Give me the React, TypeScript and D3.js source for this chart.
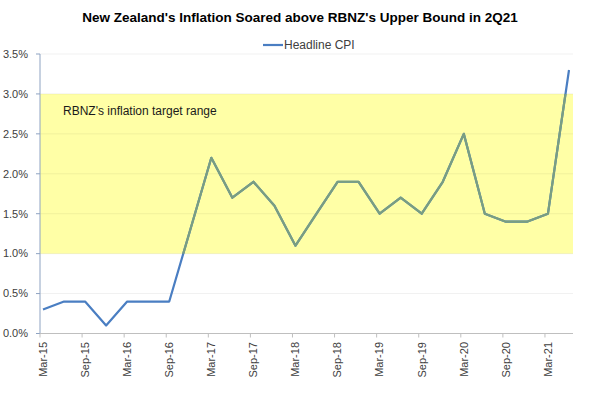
import React, { useRef, useEffect } from 'react';
import * as d3 from 'd3';

// quarterly headline CPI, annual % change
const quarters = [
  'Mar-15', 'Jun-15', 'Sep-15', 'Dec-15', 'Mar-16', 'Jun-16', 'Sep-16', 'Dec-16',
  'Mar-17', 'Jun-17', 'Sep-17', 'Dec-17', 'Mar-18', 'Jun-18', 'Sep-18', 'Dec-18',
  'Mar-19', 'Jun-19', 'Sep-19', 'Dec-19', 'Mar-20', 'Jun-20', 'Sep-20', 'Dec-20',
  'Mar-21', 'Jun-21',
];
const headlineCpi = [
  0.3, 0.4, 0.4, 0.1, 0.4, 0.4, 0.4, 1.3,
  2.2, 1.7, 1.9, 1.6, 1.1, 1.5, 1.9, 1.9,
  1.5, 1.7, 1.5, 1.9, 2.5, 1.5, 1.4, 1.4,
  1.5, 3.3,
];
const xLabels = quarters.filter((_, i) => i % 2 === 0);
const yTicks = [0, 0.5, 1, 1.5, 2, 2.5, 3, 3.5];
const targetRange = [1, 3];

const title = "New Zealand's Inflation Soared above RBNZ's Upper Bound in 2Q21";

const App = () => {
  const ref = useRef<SVGSVGElement>(null);

  useEffect(() => {
    const svg = d3.select(ref.current);
    svg.selectAll('*').remove();
    const font = 'Liberation Sans, Arial, sans-serif';

    const left = 40, right = 573;
    const x = d3.scalePoint<string>().domain(quarters).range([43, 569]);
    const y = d3.scaleLinear().domain([0, 3.5]).range([333.5, 54]);

    // target band
    svg.append('rect')
      .attr('x', left).attr('width', right - left)
      .attr('y', y(targetRange[1])).attr('height', y(targetRange[0]) - y(targetRange[1]))
      .attr('fill', '#FFFFA6');

    // gridlines
    svg.append('g').selectAll('line')
      .data(yTicks.slice(1))
      .join('line')
      .attr('x1', left).attr('x2', right)
      .attr('y1', d => y(d)).attr('y2', d => y(d))
      .attr('stroke', '#000').attr('stroke-opacity', 0.06);

    svg.append('text')
      .attr('x', 63).attr('y', 115)
      .attr('font-family', font).attr('font-size', 12)
      .attr('fill', '#1a1a1a')
      .text("RBNZ's inflation target range");

    const data = quarters.map((q, i) => ({ q, v: headlineCpi[i] }));
    const line = d3.line<{ q: string; v: number }>()
      .x(d => x(d.q)!)
      .y(d => y(d.v));

    svg.append('path')
      .datum(data)
      .attr('d', line)
      .attr('fill', 'none')
      .attr('stroke', '#4A7EC2')
      .attr('stroke-width', 2.2)
      .attr('stroke-linejoin', 'round');

    // part of the line seen through the band
    svg.append('clipPath').attr('id', 'band')
      .append('rect')
      .attr('x', left).attr('width', right - left)
      .attr('y', y(targetRange[1])).attr('height', y(targetRange[0]) - y(targetRange[1]));

    svg.append('path')
      .datum(data)
      .attr('clip-path', 'url(#band)')
      .attr('d', line)
      .attr('fill', 'none')
      .attr('stroke', '#7A9E80')
      .attr('stroke-width', 2.2)
      .attr('stroke-linejoin', 'round');

    // y axis
    const yAxis = svg.append('g');
    yAxis.append('line')
      .attr('x1', left).attr('x2', left)
      .attr('y1', y(3.5)).attr('y2', y(0))
      .attr('stroke', '#8EA3C2');
    yAxis.selectAll('line.tick')
      .data(yTicks)
      .join('line')
      .attr('class', 'tick')
      .attr('x1', left - 4).attr('x2', left)
      .attr('y1', d => y(d)).attr('y2', d => y(d))
      .attr('stroke', '#8EA3C2');
    yAxis.selectAll('text')
      .data(yTicks)
      .join('text')
      .attr('x', 28).attr('y', d => y(d))
      .attr('dy', '0.35em')
      .attr('text-anchor', 'end')
      .attr('font-family', font).attr('font-size', 11)
      .attr('fill', '#404040')
      .text(d => d.toFixed(1) + '%');

    // x axis
    const xAxis = svg.append('g');
    xAxis.append('line')
      .attr('x1', left).attr('x2', right)
      .attr('y1', y(0)).attr('y2', y(0))
      .attr('stroke', '#BFBFBF');
    xAxis.selectAll('line.tick')
      .data(xLabels)
      .join('line')
      .attr('class', 'tick')
      .attr('x1', d => x(d)! - 3).attr('x2', d => x(d)! - 3)
      .attr('y1', y(0)).attr('y2', y(0) + 4)
      .attr('stroke', '#BFBFBF');
    xAxis.selectAll('text')
      .data(xLabels)
      .join('text')
      .attr('transform', d => `translate(${x(d)},342) rotate(-90)`)
      .attr('dy', '0.35em')
      .attr('text-anchor', 'end')
      .attr('font-family', font).attr('font-size', 11)
      .attr('fill', '#404040')
      .text(d => d);

    // title
    svg.append('text')
      .attr('x', 300).attr('y', 22)
      .attr('text-anchor', 'middle')
      .attr('font-family', font).attr('font-size', 13.5)
      .attr('font-weight', 'bold')
      .attr('fill', '#000')
      .text(title);

    // legend
    svg.append('line')
      .attr('x1', 263).attr('x2', 283)
      .attr('y1', 45).attr('y2', 45)
      .attr('stroke', '#4A7EC2').attr('stroke-width', 2.2);
    svg.append('text')
      .attr('x', 284).attr('y', 45)
      .attr('dy', '0.35em')
      .attr('font-family', font).attr('font-size', 12)
      .attr('fill', '#404040')
      .text('Headline CPI');
  }, []);

  return (
    <svg ref={ref} width={600} height={398}
      style={{ position: 'absolute', left: 0, top: 0, background: '#fff' }} />
  );
};

export default App;
